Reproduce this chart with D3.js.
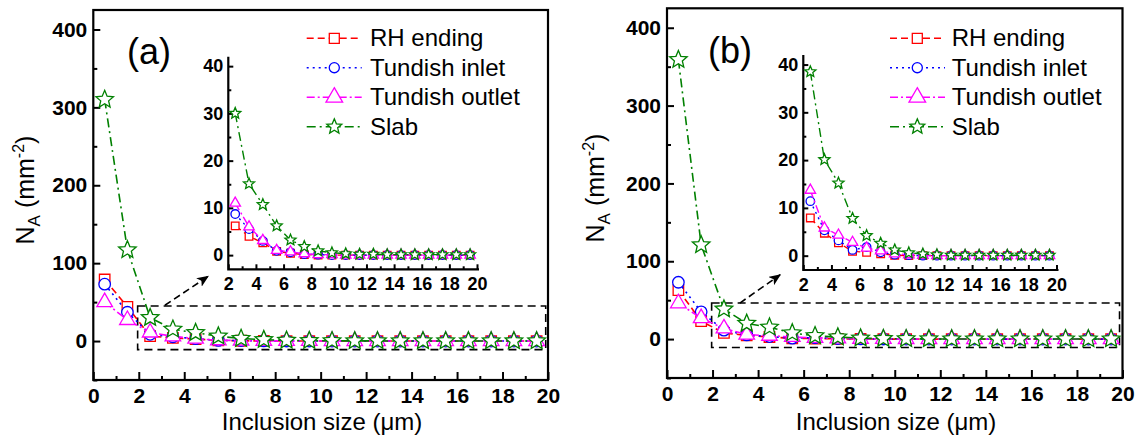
<!DOCTYPE html>
<html>
<head>
<meta charset="utf-8">
<script src="https://cdn.jsdelivr.net/npm/d3@7"></script>
<style>
  html, body { margin: 0; padding: 0; background: #fff; }
  svg { display: block; }
  text { font-family: Arial, "Liberation Sans", sans-serif; fill: #000; }
</style>
</head>
<body>
<svg id="chart" width="1139" height="438"></svg>
<script>
// Inclusion size classes (bin centres, µm)
const sizes = [0.5, 1.5, 2.5, 3.5, 4.5, 5.5, 6.5, 7.5, 8.5, 9.5,
               10.5, 11.5, 12.5, 13.5, 14.5, 15.5, 16.5, 17.5, 18.5, 19.5];

const seriesNames = ["RH ending", "Tundish inlet", "Tundish outlet", "Slab"];

// Panel (a): number density N_A (mm^-2)
const rhEndingA      = [79, 44, 6.2, 4.0, 2.6, 0.8, 0.4, 0.1, 0, 0, 0, 0, 0, 0, 0, 0, 0, 0, 0, 0];
const tundishInletA  = [73, 37, 8.7, 5.5, 3.0, 0.9, 0.6, 0.2, 0.1, 0, 0, 0, 0, 0, 0, 0, 0, 0, 0, 0];
const tundishOutletA = [50, 27, 11.0, 6.0, 3.1, 1.0, 0.7, 0.3, 0.1, 0.1, 0, 0, 0, 0, 0, 0, 0, 0, 0, 0];
const slabA          = [310, 117, 30, 15.1, 10.7, 6.2, 3.2, 1.8, 0.9, 0.5, 0.3, 0.2, 0.2, 0.1, 0.1, 0.1, 0.1, 0.1, 0.1, 0.1];

// Panel (b): number density N_A (mm^-2)
const rhEndingB      = [63, 23, 7.9, 4.7, 2.7, 0.9, 0.7, 0.4, 0.1, 0, 0, 0, 0, 0, 0, 0, 0, 0, 0, 0];
const tundishInletB  = [73, 35, 11.4, 5.3, 3.2, 1.2, 1.8, 0.7, 0.2, 0.1, 0, 0, 0, 0, 0, 0, 0, 0, 0, 0];
const tundishOutletB = [46, 27, 13.7, 5.8, 4.3, 2.8, 1.6, 1.0, 0.4, 0.2, 0.1, 0, 0, 0, 0, 0, 0, 0, 0, 0];
const slabB          = [359, 121, 38.5, 20.1, 15.2, 7.8, 4.2, 2.6, 1.2, 0.6, 0.35, 0.2, 0.1, 0.1, 0.1, 0.1, 0.1, 0.1, 0.1, 0.1];

// Tick values
const xTicksMain      = [0, 2, 4, 6, 8, 10, 12, 14, 16, 18, 20];
const xMinorMain      = [1, 3, 5, 7, 9, 11, 13, 15, 17, 19];
const yTicksMain      = [0, 100, 200, 300, 400];
const yMinorMain      = [-50, 50, 150, 250, 350];
const xTicksInset     = [2, 4, 6, 8, 10, 12, 14, 16, 18, 20];
const xMinorInset     = [3, 5, 7, 9, 11, 13, 15, 17, 19];
const yTicksInset     = [0, 10, 20, 30, 40];
const yMinorInset     = [5, 15, 25, 35];

const panelLabels = ["(a)", "(b)"];
const xTitle = "Inclusion size (μm)";

// Series styles
const styles = [
  { color: "#ff0000", dash: "7,4",       symbol: "square"   },
  { color: "#0000ff", dash: "2,4",       symbol: "circle"   },
  { color: "#ff00ff", dash: "8,3,2,3",   symbol: "triangle" },
  { color: "#008000", dash: "9,4,2,4",   symbol: "star"     }
];

// Open star with a fairly wide inner radius
const symbolStarOpen = {
  draw(ctx, size) {
    const r = Math.sqrt(size), ri = r * 0.45;
    for (let k = 0; k < 10; k++) {
      const a = -Math.PI / 2 + k * Math.PI / 5;
      const rr = k % 2 === 0 ? r : ri;
      const px = rr * Math.cos(a), py = rr * Math.sin(a);
      if (k === 0) ctx.moveTo(px, py); else ctx.lineTo(px, py);
    }
    ctx.closePath();
  }
};
const symbolTypes = {
  square: d3.symbolSquare, circle: d3.symbolCircle,
  triangle: d3.symbolTriangle, star: symbolStarOpen
};
const markerSizes = {
  main:   { square: 110, circle: 104, triangle: 105, star: 85 },
  inset:  { square: 58,  circle: 57,  triangle: 48,  star: 34 },
  legend: { square: 100, circle: 80,  triangle: 120, star: 62 }
};

const panels = [
  {
    series: [rhEndingA, tundishInletA, tundishOutletA, slabA],
    main:  { left: 93.3, right: 548, top: 10, bottom: 380 },
    inset: { left: 228.3, right: 477, top: 56.7, bottom: 269.3 },
    zoomBox: { x0: 1.95, x1: 19.9, y0: -11, y1: 45 },
    arrow: { x0: 3.15, y0: 46, x1: 5.05, y1: 83 },
    legend: { x0: 306.7, x1: 361.7, xm: 334.3, xt: 370, y: [38.3, 67.7, 97.3, 126.7] },
    label: { x: 149, y: 64 },
    yTitle: { x: 34, y: 190 },
    xTitle: { x: 322, y: 430 }
  },
  {
    series: [rhEndingB, tundishInletB, tundishOutletB, slabB],
    main:  { left: 667, right: 1122.5, top: 8.3, bottom: 378 },
    inset: { left: 803.3, right: 1056.5, top: 55, bottom: 270 },
    zoomBox: { x0: 1.96, x1: 19.87, y0: -10.8, y1: 46.3 },
    arrow: { x0: 3.2, y0: 46.3, x1: 4.97, y1: 82.7 },
    legend: { x0: 890, x1: 945, xm: 917.3, xt: 951.7, y: [38.3, 67.7, 97.3, 126.7] },
    label: { x: 730, y: 63 },
    yTitle: { x: 604, y: 188 },
    xTitle: { x: 896, y: 430 }
  }
];

const svg = d3.select("#chart");

// Arrow head for the zoom pointer
svg.append("defs").append("marker")
  .attr("id", "arrowHead")
  .attr("viewBox", "0 0 12 10")
  .attr("refX", 11).attr("refY", 5)
  .attr("markerWidth", 12).attr("markerHeight", 10)
  .attr("markerUnits", "userSpaceOnUse")
  .attr("orient", "auto")
  .append("path")
  .attr("d", "M0,0 L12,5 L0,10 L3,5 Z")
  .attr("fill", "#000");

function styleAxis(g, fontSize) {
  g.select(".domain").remove();
  g.selectAll(".tick line").attr("stroke", "#000").attr("stroke-width", 2);
  g.selectAll(".tick text")
    .attr("font-size", fontSize)
    .attr("font-weight", "bold")
    .attr("font-family", 'Arial, "Liberation Sans", sans-serif')
    .attr("fill", "#000");
}

function drawSeries(g, x, y, values, style, sizeSet, lw) {
  const pts = values.map(d => [d[0], d[1]]);
  g.append("path")
    .datum(pts)
    .attr("fill", "none")
    .attr("stroke", style.color)
    .attr("stroke-width", lw)
    .attr("stroke-dasharray", style.dash)
    .attr("d", d3.line().x(d => x(d[0])).y(d => y(d[1])));
  const sym = d3.symbol().type(symbolTypes[style.symbol]).size(sizeSet[style.symbol]);
  g.selectAll(null)
    .data(pts)
    .join("path")
    .attr("transform", d => `translate(${x(d[0])},${y(d[1])})`)
    .attr("d", sym)
    .attr("fill", "#fff")
    .attr("stroke", style.color)
    .attr("stroke-width", 1.3);
}

panels.forEach((p, pi) => {
  const g = svg.append("g");
  const m = p.main;
  const x = d3.scaleLinear().domain([0, 20]).range([m.left, m.right]);
  const y = d3.scaleLinear().domain([-50, 425]).range([m.bottom, m.top]);

  // Main axes: ticks point inward
  g.append("g").attr("transform", `translate(0,${m.bottom})`)
    .call(d3.axisBottom(x).tickValues(xTicksMain).tickSize(-8).tickSizeOuter(0).tickPadding(8))
    .call(a => styleAxis(a, 21));
  g.append("g").attr("transform", `translate(0,${m.bottom})`)
    .call(d3.axisBottom(x).tickValues(xMinorMain).tickSize(-4).tickSizeOuter(0).tickFormat(""))
    .call(a => styleAxis(a, 21));
  g.append("g").attr("transform", `translate(${m.left},0)`)
    .call(d3.axisLeft(y).tickValues(yTicksMain).tickSize(-7).tickSizeOuter(0).tickPadding(6))
    .call(a => styleAxis(a, 21));
  g.append("g").attr("transform", `translate(${m.left},0)`)
    .call(d3.axisLeft(y).tickValues(yMinorMain).tickSize(-4).tickSizeOuter(0).tickFormat(""))
    .call(a => styleAxis(a, 21));

  // Frame
  g.append("rect")
    .attr("x", m.left).attr("y", m.top)
    .attr("width", m.right - m.left).attr("height", m.bottom - m.top)
    .attr("fill", "none").attr("stroke", "#000").attr("stroke-width", 2.2);

  // Zoom region and pointer arrow
  const zb = p.zoomBox;
  g.append("rect")
    .attr("x", x(zb.x0)).attr("y", y(zb.y1))
    .attr("width", x(zb.x1) - x(zb.x0)).attr("height", y(zb.y0) - y(zb.y1))
    .attr("fill", "none").attr("stroke", "#000")
    .attr("stroke-width", 1.6).attr("stroke-dasharray", "8,5");
  g.append("line")
    .attr("x1", x(p.arrow.x0)).attr("y1", y(p.arrow.y0))
    .attr("x2", x(p.arrow.x1)).attr("y2", y(p.arrow.y1))
    .attr("stroke", "#000").attr("stroke-width", 1.6)
    .attr("stroke-dasharray", "7,4")
    .attr("marker-end", "url(#arrowHead)");

  // Main series
  p.series.forEach((vals, si) => {
    drawSeries(g, x, y, vals.map((v, i) => [sizes[i], v]), styles[si], markerSizes.main, 1.6);
  });

  // Inset (2–20 µm)
  const ins = p.inset;
  const xi = d3.scaleLinear().domain([2, 20]).range([ins.left, ins.right]);
  const yi = d3.scaleLinear().domain([-3, 42]).range([ins.bottom, ins.top]);
  const ig = g.append("g");
  ig.append("g").attr("transform", `translate(0,${ins.bottom})`)
    .call(d3.axisBottom(xi).tickValues(xTicksInset).tickSize(-5).tickSizeOuter(0).tickPadding(8))
    .call(a => styleAxis(a, 18));
  ig.append("g").attr("transform", `translate(0,${ins.bottom})`)
    .call(d3.axisBottom(xi).tickValues(xMinorInset).tickSize(-3).tickSizeOuter(0).tickFormat(""))
    .call(a => styleAxis(a, 18));
  ig.append("g").attr("transform", `translate(${ins.left},0)`)
    .call(d3.axisLeft(yi).tickValues(yTicksInset).tickSize(-5).tickSizeOuter(0).tickPadding(5))
    .call(a => styleAxis(a, 18));
  ig.append("g").attr("transform", `translate(${ins.left},0)`)
    .call(d3.axisLeft(yi).tickValues(yMinorInset).tickSize(-3).tickSizeOuter(0).tickFormat(""))
    .call(a => styleAxis(a, 18));
  ig.append("path")
    .attr("d", `M${ins.left},${ins.top}V${ins.bottom}H${ins.right + 2}`)
    .attr("fill", "none").attr("stroke", "#000").attr("stroke-width", 2.2);
  p.series.forEach((vals, si) => {
    const pts = vals.map((v, i) => [sizes[i], v]).filter(d => d[0] >= 2);
    drawSeries(ig, xi, yi, pts, styles[si], markerSizes.inset, 1.4);
  });

  // Legend
  const L = p.legend;
  seriesNames.forEach((name, si) => {
    const ly = L.y[si];
    const st = styles[si];
    g.append("line")
      .attr("x1", L.x0).attr("x2", L.x1).attr("y1", ly).attr("y2", ly)
      .attr("stroke", st.color).attr("stroke-width", 1.6)
      .attr("stroke-dasharray", st.dash);
    g.append("path")
      .attr("transform", `translate(${L.xm},${ly})`)
      .attr("d", d3.symbol().type(symbolTypes[st.symbol]).size(markerSizes.legend[st.symbol]))
      .attr("fill", "#fff").attr("stroke", st.color).attr("stroke-width", 1.3);
    g.append("text")
      .attr("x", L.xt).attr("y", ly + 8)
      .attr("font-size", 24)
      .text(name);
  });

  // Panel label
  g.append("text")
    .attr("x", p.label.x).attr("y", p.label.y)
    .attr("text-anchor", "middle")
    .attr("font-size", 36)
    .text(panelLabels[pi]);

  // Axis titles
  g.append("text")
    .attr("x", p.xTitle.x).attr("y", p.xTitle.y)
    .attr("text-anchor", "middle")
    .attr("font-size", 24)
    .text(xTitle);

  const yt = g.append("text")
    .attr("transform", `translate(${p.yTitle.x},${p.yTitle.y}) rotate(-90)`)
    .attr("text-anchor", "middle")
    .attr("font-size", 25);
  yt.append("tspan").text("N");
  yt.append("tspan").attr("font-size", 17).attr("dy", 6).text("A");
  yt.append("tspan").attr("dy", -6).text(" (mm");
  yt.append("tspan").attr("font-size", 16).attr("dy", -10).text("-2");
  yt.append("tspan").attr("dy", 10).text(")");
});
</script>
</body>
</html>
